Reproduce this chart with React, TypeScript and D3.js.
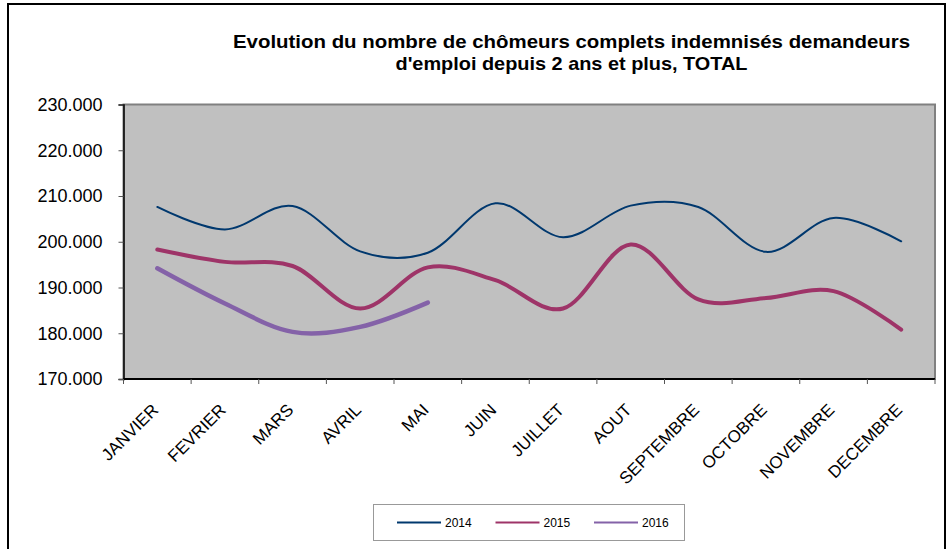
import React, { useEffect, useRef } from 'react';
import * as d3 from 'd3';

const months = ['JANVIER', 'FEVRIER', 'MARS', 'AVRIL', 'MAI', 'JUIN', 'JUILLET', 'AOUT', 'SEPTEMBRE', 'OCTOBRE', 'NOVEMBRE', 'DECEMBRE'];
const yTicks = [170000, 180000, 190000, 200000, 210000, 220000, 230000];

const values2014 = [207600, 202700, 207800, 197900, 197600, 208400, 201000, 207900, 207600, 197800, 205200, 200100];
const values2015 = [198300, 195600, 194700, 185400, 194400, 191600, 185400, 199400, 187400, 187700, 189200, 180800];
const values2016 = [194200, 186500, 180300, 181400, 186700];

const series = [
  { name: '2014', values: values2014, color: '#00386e', width: 2 },
  { name: '2015', values: values2015, color: '#9e3468', width: 4 },
  { name: '2016', values: values2016, color: '#8462a8', width: 4.5 },
];

const titleLines = [
  'Evolution du nombre de chômeurs complets indemnisés demandeurs',
  "d'emploi depuis 2 ans et plus, TOTAL",
];
const titleWidths = [677, 352];

export default function App() {
  const ref = useRef<SVGSVGElement>(null);

  useEffect(() => {
    const svg = d3.select(ref.current);
    svg.selectAll('*').remove();

    const width = 948;
    const height = 549;
    const margin = { top: 104.5, right: 13, bottom: 170, left: 123.5 }; // plot area
    const font = 'Arial, "Liberation Sans", Helvetica, sans-serif';

    svg.attr('width', width).attr('height', height);

    // outer chart border
    svg.append('rect')
      .attr('x', 8).attr('y', 4)
      .attr('width', 937).attr('height', 560)
      .attr('fill', 'white').attr('stroke', '#000').attr('stroke-width', 2);

    // title
    svg.append('g')
      .selectAll('text')
      .data(titleLines)
      .join('text')
      .attr('x', 571.5)
      .attr('y', (d, i) => 48 + i * 22)
      .attr('text-anchor', 'middle')
      .attr('textLength', (d, i) => titleWidths[i])
      .attr('lengthAdjust', 'spacingAndGlyphs')
      .style('font-family', font)
      .style('font-size', '18.5px')
      .style('font-weight', 'bold')
      .text((d) => d);

    const x = d3.scaleBand()
      .domain(months)
      .range([margin.left, width - margin.right]);

    const y = d3.scaleLinear()
      .domain([170000, 230000])
      .range([height - margin.bottom, margin.top]);

    // plot area
    svg.append('rect')
      .attr('x', margin.left).attr('y', margin.top)
      .attr('width', width - margin.right - margin.left)
      .attr('height', height - margin.bottom - margin.top)
      .attr('fill', '#c0c0c0')
      .attr('stroke', '#808080')
      .attr('stroke-width', 2);

    // y axis
    const fmt = (v: number) => d3.format(',')(v).replace(/,/g, '.');
    const yAxis = svg.append('g')
      .attr('transform', `translate(${margin.left},0)`)
      .call(d3.axisLeft(y).tickValues(yTicks).tickFormat((d) => fmt(d as number)).tickSize(5).tickPadding(16));
    yAxis.select('.domain').attr('stroke', '#000').attr('stroke-width', 1.5);
    yAxis.selectAll('.tick line').attr('stroke', '#555');
    yAxis.selectAll('text')
      .attr('fill', '#000')
      .style('font-family', font)
      .style('font-size', '18px');

    // x axis with ticks at category boundaries
    const xAxis = svg.append('g')
      .attr('transform', `translate(0,${height - margin.bottom})`);
    xAxis.append('line')
      .attr('x1', margin.left).attr('x2', width - margin.right)
      .attr('stroke', '#000').attr('stroke-width', 2);
    xAxis.selectAll('line.tick')
      .data(months.concat(['end']))
      .join('line')
      .attr('class', 'tick')
      .attr('x1', (d, i) => (i < months.length ? x(d)! : x(months[months.length - 1])! + x.bandwidth()))
      .attr('x2', (d, i) => (i < months.length ? x(d)! : x(months[months.length - 1])! + x.bandwidth()))
      .attr('y1', 0).attr('y2', 5)
      .attr('stroke', '#555');
    xAxis.selectAll('text')
      .data(months)
      .join('text')
      .attr('transform', (d) => `translate(${x(d)! + x.bandwidth() / 2 + 2},${32}) rotate(-45)`)
      .attr('text-anchor', 'end')
      .style('font-family', font)
      .style('font-size', '17px')
      .text((d) => d);

    // lines
    const line = d3.line<number>()
      .x((d, i) => x(months[i])! + x.bandwidth() / 2)
      .y((d) => y(d))
      .curve(d3.curveCardinal.tension(0));

    svg.append('g')
      .selectAll('path')
      .data(series)
      .join('path')
      .attr('d', (d) => line(d.values))
      .attr('fill', 'none')
      .attr('stroke', (d) => d.color)
      .attr('stroke-width', (d) => d.width)
      .attr('stroke-linecap', 'round');

    // legend
    const legend = svg.append('g');
    legend.append('rect')
      .attr('x', 373.5).attr('y', 504.5)
      .attr('width', 311).attr('height', 36)
      .attr('fill', 'white').attr('stroke', '#999');
    const items = legend.selectAll('g.item')
      .data(series)
      .join('g')
      .attr('class', 'item')
      .attr('transform', (d, i) => `translate(${397 + i * 98.5},522.5)`);
    items.append('line')
      .attr('x1', 0).attr('x2', 44)
      .attr('stroke', (d) => d.color).attr('stroke-width', 2);
    items.append('text')
      .attr('x', 48).attr('dy', '0.35em')
      .style('font-family', font)
      .style('font-size', '12px')
      .text((d) => d.name);
  }, []);

  return <svg ref={ref} style={{ position: 'absolute', left: 0, top: 0 }}></svg>;
}
